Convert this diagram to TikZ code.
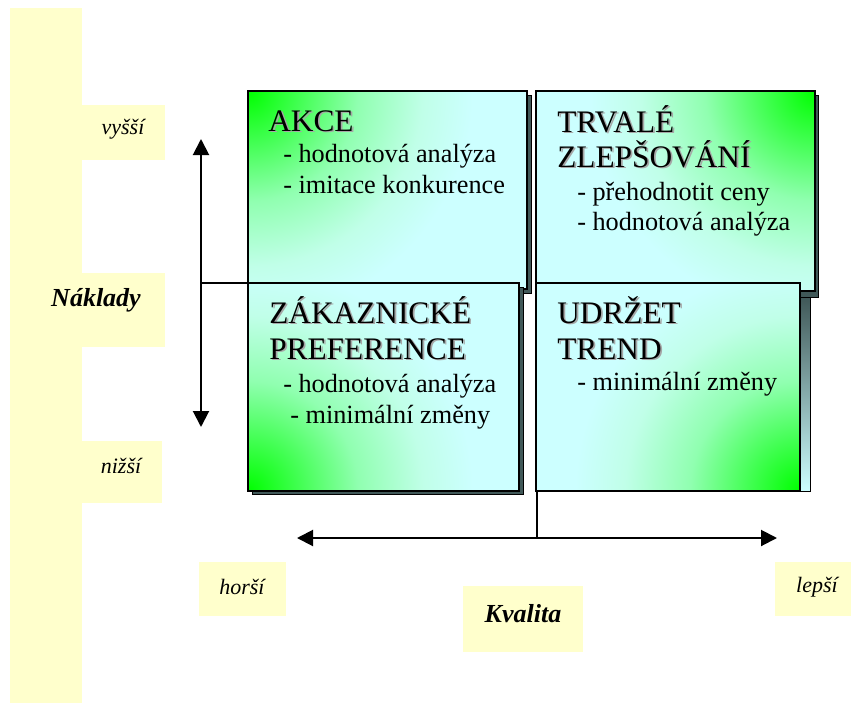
\documentclass[tikz,border=0pt]{standalone}
\usepackage{fontspec}
\setmainfont{Liberation Serif}
\usetikzlibrary{arrows.meta}
\definecolor{paleyellow}{HTML}{FFFFCC}
\definecolor{lightcyan}{HTML}{CCFFFF}
\definecolor{vividgreen}{HTML}{00FF00}
\definecolor{gA}{HTML}{40FF50}
\definecolor{gB}{HTML}{90FFB0}
\definecolor{gC}{HTML}{C0FFE8}
\definecolor{shadowgray}{HTML}{405858}
\pgfdeclareradialshading{cornerglow}{\pgfpoint{0bp}{0bp}}{color(0bp)=(vividgreen); color(5bp)=(gA); color(11bp)=(gB); color(17.5bp)=(gC); color(22.5bp)=(lightcyan); color(25bp)=(lightcyan); color(50bp)=(lightcyan)}
\tikzset{
  boxline/.style={draw=black, line width=0.9pt},
  shadowbox/.style={fill=shadowgray, draw=black, line width=0.6pt},
  titletext/.style={anchor=base west, inner sep=0pt, font=\fontsize{23.5pt}{28pt}\selectfont},
  titleshade/.style={titletext, text=black!35, xshift=1.3pt, yshift=-1.3pt},
  itemtext/.style={anchor=base west, inner sep=0pt, font=\fontsize{19.7pt}{24pt}\selectfont},
  labelbox/.style={fill=paleyellow, draw=none},
  smalllabel/.style={inner sep=0pt, font=\fontsize{16.5pt}{20pt}\selectfont\itshape},
  biglabel/.style={inner sep=0pt, font=\fontsize{19.5pt}{24pt}\selectfont\bfseries\itshape},
  axisarrow/.style={line width=1.5pt, {Triangle[width=12pt,length=12pt]}-{Triangle[width=12pt,length=12pt]}},
  crossline/.style={line width=1pt},
}
\newcommand\quadrant[6]{% x1 y1 x2 y2 cx cy
  \begin{scope}
    \clip (#1,#2) rectangle (#3,#4);
    \fill[lightcyan] (#1,#2) rectangle (#3,#4);
    \shade[shading=cornerglow] (#5,#6) circle[radius=250];
  \end{scope}
  \draw[boxline] (#1,#2) rectangle (#3,#4);
}
\newcommand\heading[4]{% name x y text
  \node[titleshade] at (#2,#3) {#4};
  \node[titletext] (#1) at (#2,#3) {#4};
}
\begin{document}
\begin{tikzpicture}[x=0.75pt,y=-0.75pt]
\useasboundingbox (0,0) rectangle (851,704);
\fill[white] (0,0) rectangle (851,704);

% yellow label areas
\fill[labelbox] (10,8) rectangle (82,703);
\fill[labelbox] (82,105) rectangle (165,160);
\fill[labelbox] (82,273) rectangle (165,347);
\fill[labelbox] (82,441) rectangle (162,503);
\fill[labelbox] (199,562) rectangle (286,616);
\fill[labelbox] (463,586) rectangle (583,652);
\fill[labelbox] (775,562) rectangle (851,616);

\node[smalllabel] (vyssi) at (123,129) {vyšší};
\node[biglabel] (naklady) at (96,300) {Náklady};
\node[smalllabel] (nizsi) at (121,466) {nižší};
\node[smalllabel] (horsi) at (242,587) {horší};
\node[biglabel] (kvalita) at (523,614) {Kvalita};
\node[smalllabel] (lepsi) at (817,587) {lepší};

% axis coordinates
\coordinate (vtop) at (201,139);
\coordinate (vbot) at (201,427);
\coordinate (vmid) at (201,283);
\coordinate (vmidR) at (250,283);
\coordinate (hleft) at (297,538);
\coordinate (hright) at (777,538);
\coordinate (hmid) at (537,538);
\coordinate (hmidT) at (537,489);

\draw[crossline] (vmid) -- (vmidR);
\draw[crossline] (hmidT) -- (hmid);
\draw[axisarrow] (vtop) -- (vbot);
\draw[axisarrow] (hleft) -- (hright);

% upper boxes
\draw[shadowbox] (252,95) rectangle (531,293);
\quadrant{248}{91}{527}{289}{248}{91}
\draw[shadowbox] (539,95) rectangle (818,297);
\quadrant{536}{91}{815}{291}{815}{91}

% lower boxes
\draw[shadowbox] (252,287) rectangle (523,494);
\quadrant{248}{283}{519}{491}{248}{491}
\shade[top color=shadowgray, bottom color=lightcyan, draw=black, line width=0.6pt] (800,297) rectangle (810,491);
\quadrant{536}{283}{800}{491}{800}{491}

% texts
\heading{akce}{268}{131}{AKCE}
\node[itemtext] (akce1) at (283,162) {- hodnotová analýza};
\node[itemtext] (akce2) at (283,193) {- imitace konkurence};

\heading{trvale}{557}{132}{TRVALÉ}
\heading{zlepsovani}{557}{167}{ZLEPŠOVÁNÍ}
\node[itemtext] (tr1) at (577,200) {- přehodnotit ceny};
\node[itemtext] (tr2) at (577,230) {- hodnotová analýza};

\heading{zakaznicke}{269}{323}{ZÁKAZNICKÉ}
\heading{preference}{269}{359}{PREFERENCE}
\node[itemtext] (zk1) at (283,392) {- hodnotová analýza};
\node[itemtext] (zk2) at (290,423) {- minimální změny};

\heading{udrzet}{557}{323}{UDRŽET}
\heading{trend}{557}{359}{TREND}
\node[itemtext] (ud1) at (577,390) {- minimální změny};
\end{tikzpicture}
\end{document}
